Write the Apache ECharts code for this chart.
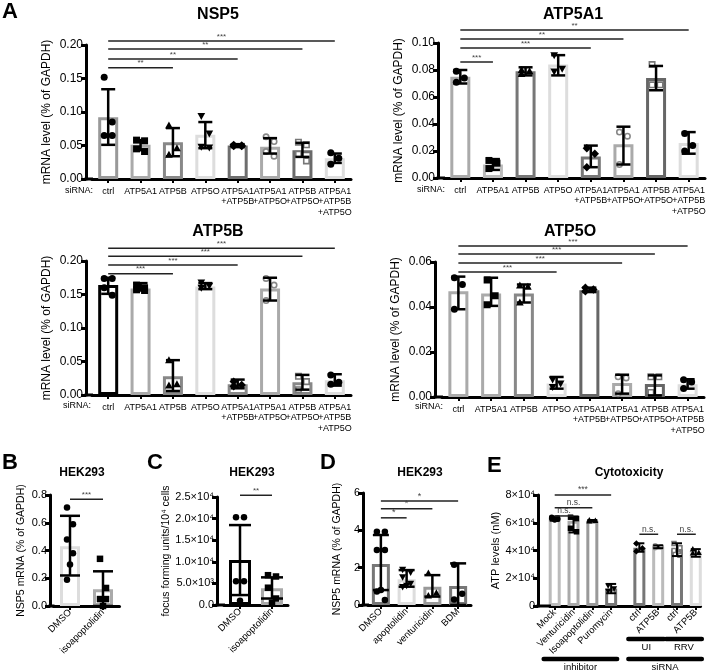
<!DOCTYPE html>
<html><head><meta charset="utf-8">
<script src="https://cdn.jsdelivr.net/npm/echarts@6/dist/echarts.min.js"></script>
<style>html,body{margin:0;padding:0;background:#fff}#c{width:713px;height:672px}</style>
</head><body><div id="c"></div><script>
// ---------------- DATA ----------------
const catsA = ['ctrl','ATP5A1','ATP5B','ATP5O','ATP5A1\n+ATP5B','ATP5A1\n+ATP5O','ATP5B\n+ATP5O','ATP5A1\n+ATP5B\n+ATP5O'];

// A - NSP5
const nsp5Ticks = ['0.00','0.05','0.10','0.15','0.20'];
const nsp5Mean = [0.092, 0.051, 0.055, 0.066, 0.050, 0.048, 0.043, 0.031];
const nsp5Lo   = [0.051, 0.043, 0.034, 0.046, 0.048, 0.038, 0.033, 0.024];
const nsp5Hi   = [0.134, 0.058, 0.076, 0.085, 0.052, 0.061, 0.054, 0.038];
const nsp5Pts  = [[0.152,0.085,0.065,0.065],[0.058,0.057,0.045,0.041],[0.080,0.046,0.036],[0.094,0.068,0.048,0.047],[0.051,0.050,0.049,0.049],[0.063,0.056,0.041,0.034],[0.055,0.051,0.037,0.027],[0.039,0.031,0.022]];
const nsp5SigTo  = [7, 6, 4, 2];
const nsp5SigY   = [0.206, 0.194, 0.179, 0.166];
const nsp5SigLbl = ['***','**','**','**'];

// A - ATP5A1
const a1Ticks = ['0.00','0.02','0.04','0.06','0.08','0.10'];
const a1Mean = [0.075, 0.010, 0.079, 0.084, 0.016, 0.025, 0.074, 0.026];
const a1Lo   = [0.070, 0.006, 0.076, 0.076, 0.008, 0.010, 0.065, 0.018];
const a1Hi   = [0.080, 0.014, 0.082, 0.091, 0.024, 0.038, 0.083, 0.034];
const a1Pts  = [[0.079,0.074,0.071],[0.013,0.011,0.007],[0.080,0.079,0.077],[0.091,0.081,0.079],[0.022,0.018,0.008],[0.034,0.031,0.010],[0.084,0.069,0.069],[0.033,0.024,0.020]];
const a1SigTo  = [7, 5, 4, 1];
const a1SigY   = [0.1096, 0.1030, 0.0963, 0.0860];
const a1SigLbl = ['**','**','***','***'];

// A - ATP5B
const bTicks = ['0.00','0.05','0.10','0.15','0.20'];
const bMean = [0.164, 0.159, 0.028, 0.162, 0.016, 0.159, 0.019, 0.022];
const bLo   = [0.151, 0.156, 0.006, 0.158, 0.010, 0.141, 0.008, 0.014];
const bHi   = [0.175, 0.167, 0.052, 0.167, 0.023, 0.175, 0.030, 0.031];
const bPts  = [[0.174,0.174,0.160,0.149],[0.164,0.160,0.157,0.156],[0.052,0.016,0.014],[0.168,0.163,0.160],[0.020,0.015,0.013],[0.174,0.164,0.141],[0.028,0.020,0.008],[0.030,0.019,0.016]];
const bSigTo  = [7, 6, 4, 2];
const bSigY   = [0.219, 0.207, 0.194, 0.181];
const bSigLbl = ['***','***','***','***'];

// A - ATP5O
const oTicks = ['0.00','0.02','0.04','0.06'];
const oMean = [0.047, 0.046, 0.046, 0.006, 0.0475, 0.0062, 0.0058, 0.0057];
const oLo   = [0.039, 0.0405, 0.042, 0.0037, 0.0467, 0.0015, 0.0007, 0.0037];
const oHi   = [0.0535, 0.053, 0.050, 0.0089, 0.0486, 0.0099, 0.0096, 0.0079];
const oPts  = [[0.053,0.050,0.039],[0.052,0.045,0.041],[0.0495,0.049,0.042],[0.0078,0.006,0.0045],[0.0486,0.0478,0.047],[0.009,0.0085,0.0015],[0.009,0.009,0.002],[0.0077,0.0067,0.0038]];
const oSigTo  = [7, 6, 5, 3];
const oSigY   = [0.0671, 0.0636, 0.0596, 0.0556];
const oSigLbl = ['***','***','***','***'];

// B
const catsB = ['DMSO','isoapoptolidin'];
const bbTicks = ['0.0','0.2','0.4','0.6','0.8'];
const bbMean = [0.43, 0.12];
const bbLo   = [0.22, 0.0];
const bbHi   = [0.65, 0.25];
const bbPts  = [[0.71,0.59,0.48,0.38,0.30,0.19],[0.34,0.13,0.05,0.05,0.0]];
const bbSigTo = [1], bbSigY = [0.77], bbSigLbl = ['***'];

// C
const catsC = ['DMSO','isoapoptolidin'];
const cTicks = ['0.0','5.0×10³','1.0×10⁴','1.5×10⁴','2.0×10⁴','2.5×10⁴'];
const cMean = [10400, 3900];
const cLo   = [2300, 1500];
const cHi   = [18500, 6400];
const cPts  = [[20300,20300,5500,5500,1000],[6900,6600,4000,1500,500]];
const cSigTo = [1], cSigY = [25400], cSigLbl = ['**'];

// D
const catsD = ['DMSO','apoptolidin','venturicidin','BDM'];
const dTicks = ['0','2','4','6'];
const dMean = [2.2, 1.38, 0.98, 1.02];
const dLo   = [0.8, 0.98, 0.45, 0.0];
const dHi   = [3.75, 1.87, 1.6, 2.23];
const dPts  = [[3.93,3.93,2.95,2.95,0.8,0.72,0.27],[1.9,1.75,1.5,1.15,1.05,0.98],[1.7,0.65,0.5],[2.15,0.6,0.3]];
const dSigTo = [3, 2, 1], dSigY = [5.57, 5.15, 4.67], dSigLbl = ['*','*','*'];

// E
const catsE = ['Mock','Venturicidin','Isoapoptolidin','Puromycin','ctrl','ATP5B','ctrl','ATP5B'];
const eTicks = ['0','2×10⁴','4×10⁴','6×10⁴','8×10⁴'];
const eMean = [63000, 61500, 61500, 12700, 42000, 42700, 40800, 39100];
const eLo   = [61500, 53000, 61000, 9200, 39100, 41700, 36000, 35500];
const eHi   = [64500, 64500, 62000, 15900, 45200, 43700, 45200, 41000];
const ePts  = [[64000,63500,63000,62500,62000],[64000,63000,56000,53500],[61800,61500,61200],[14800,12500,10800],[45000,41500,39500],[43500,42700,42000],[45000,42000,40000,36500],[41000,38500,38000]];
const eSigFrom = [0, 0, 0, 4, 6];
const eSigTo   = [3, 2, 1, 5, 7];
const eSigY    = [80000, 70800, 64900, 51700, 51700];
const eSigLbl  = ['***','n.s.','n.s.','n.s.','n.s.'];
const eGroupLbl  = ['UI','RRV','inhibitor','siRNA'];
const eGroupFrom = [4, 6, 0, 4];
const eGroupTo   = [5, 7, 3, 7];
const eGroupRow  = [0, 0, 1, 1];

// ---------------- STYLE / LAYOUT ----------------
const FONT = 'Arial, "Liberation Sans", Helvetica, sans-serif';
const AX = 3;
const shapesA = ['circle','square','tri','tdown','diamond','ocircle','osquare','circle'];
const ptColA  = ['#000','#000','#000','#000','#000','#888','#777','#000'];

const P = [
  {g:[92,45,259,134], yOff:6, ymax:0.2, yint:0.05, ticks:nsp5Ticks, cats:catsA, mean:nsp5Mean, lo:nsp5Lo, hi:nsp5Hi, pts:nsp5Pts,
   sigTo:nsp5SigTo, sigY:nsp5SigY, sigLbl:nsp5SigLbl,
   colors:['#999','#aaa','#888','#ddd','#6e6e6e','#aaa','#6a6a6a','#ddd'], shapes:shapesA, ptCol:ptColA,
   barW:20, cap:14, elw:2.5, ms:7, dx:4, yName:'mRNA level (% of GAPDH)', nameGap:33, nameSize:12, yFont:12, xFont:9, xMargin:7, rot:0, sigFont:8},
  {g:[444,43,261,135], yOff:6, ymax:0.1, yint:0.02, ticks:a1Ticks, cats:catsA, mean:a1Mean, lo:a1Lo, hi:a1Hi, pts:a1Pts,
   sigTo:a1SigTo, sigY:a1SigY, sigLbl:a1SigLbl,
   colors:['#aaa','#bbb','#777','#ddd','#777','#aaa','#666','#ddd'], shapes:shapesA, ptCol:ptColA,
   barW:20, cap:14, elw:2.5, ms:7, dx:4, yName:'mRNA level (% of GAPDH)', nameGap:33, nameSize:12, yFont:12, xFont:9, xMargin:7, rot:0, sigFont:8},
  {g:[92,261,259,134], yOff:6, ymax:0.2, yint:0.05, ticks:bTicks, cats:catsA, mean:bMean, lo:bLo, hi:bHi, pts:bPts,
   sigTo:bSigTo, sigY:bSigY, sigLbl:bSigLbl,
   colors:['#000','#aaa','#888','#ddd','#888','#aaa','#888','#ddd'], shapes:shapesA, ptCol:ptColA,
   barW:20, cap:14, elw:2.5, ms:7, dx:4, yName:'mRNA level (% of GAPDH)', nameGap:33, nameSize:12, yFont:12, xFont:9, xMargin:7, rot:0, sigFont:8},
  {g:[442,262,262,135], yOff:7, ymax:0.06, yint:0.02, ticks:oTicks, cats:catsA, mean:oMean, lo:oLo, hi:oHi, pts:oPts,
   sigTo:oSigTo, sigY:oSigY, sigLbl:oSigLbl,
   colors:['#aaa','#aaa','#888','#ddd','#666','#aaa','#666','#ddd'], shapes:shapesA, ptCol:ptColA,
   barW:20, cap:14, elw:2.5, ms:7, dx:4, yName:'mRNA level (% of GAPDH)', nameGap:33, nameSize:12, yFont:12, xFont:9, xMargin:7, rot:0, sigFont:8},
  {g:[53.5,495,66,111], yOff:3.5, ymax:0.8, yint:0.2, ticks:bbTicks, cats:catsB, mean:bbMean, lo:bbLo, hi:bbHi, pts:bbPts,
   sigTo:bbSigTo, sigY:bbSigY, sigLbl:bbSigLbl,
   colors:['#ddd','#aaa'], shapes:['circle','square'], ptCol:['#000','#000'],
   barW:20, cap:20, elw:2.5, ms:6.5, dx:3, yName:'NSP5 mRNA (% of GAPDH)', nameGap:23, nameSize:10.5, yFont:11, xFont:9.5, xMargin:5, rot:45, sigFont:8},
  {g:[224,497,64,108], yOff:7, ymax:25000, yint:5000, ticks:cTicks, cats:catsC, mean:cMean, lo:cLo, hi:cHi, pts:cPts,
   sigTo:cSigTo, sigY:cSigY, sigLbl:cSigLbl,
   colors:['#000','#aaa'], shapes:['circle','square'], ptCol:['#000','#000'],
   barW:22, cap:22, elw:2.5, ms:6.5, dx:4, yName:'focus forming units/10⁴ cells', nameGap:40, nameSize:10.5, yFont:11, xFont:9.5, xMargin:5, rot:45, sigFont:8},
  {g:[368,493,103,112], yOff:5, ymax:6, yint:2, ticks:dTicks, cats:catsD, mean:dMean, lo:dLo, hi:dHi, pts:dPts,
   sigTo:dSigTo, sigY:dSigY, sigLbl:dSigLbl,
   colors:['#777','#ddd','#999','#777'], shapes:['circle','tdown','tri','circle'], ptCol:['#000','#000','#000','#000'],
   barW:18, cap:16, elw:2.5, ms:6.5, dx:4, yName:'NSP5 mRNA (% of GAPDH)', nameGap:20, nameSize:10.5, yFont:11, xFont:9.5, xMargin:5, rot:45, sigFont:9},
  {g:[550,495,150.5,111], yOff:12, ymax:80000, yint:20000, ticks:eTicks, cats:catsE, mean:eMean, lo:eLo, hi:eHi, pts:ePts,
   sigFrom:eSigFrom, sigTo:eSigTo, sigY:eSigY, sigLbl:eSigLbl, slot:[0,2,4,6,9,11,13,15], nSlots:16,
   colors:['#bbb','#aaa','#999','#777','#777','#bbb','#777','#ddd'],
   shapes:['circle','square','tri','tdown','diamond','ocircle','osquare','tri'], ptCol:['#000','#000','#000','#000','#000','#999','#777','#000'],
   barW:12, cap:10, elw:2, ms:5.5, dx:3, yName:'ATP levels (nM)', nameGap:27, nameSize:11, yFont:11, xFont:9.5, xMargin:5, rot:45, sigFont:8.5}
];

function marker(shape, x, y, s, color) {
  const open = shape[0] === 'o' && shape !== 'osquare' ? true : shape === 'osquare';
  const base = open ? shape.slice(1) : shape;
  const r = open ? s / 2 - 0.8 : s / 2;
  const style = open ? {fill:'#fff', stroke:color, lineWidth:1.6} : {fill:color};
  if (base === 'circle') return {type:'circle', shape:{cx:x, cy:y, r:r}, style};
  if (base === 'square') return {type:'rect', shape:{x:x - r, y:y - r, width:2 * r, height:2 * r}, style};
  if (base === 'tri') return {type:'polygon', shape:{points:[[x, y - r * 1.15], [x + r * 1.1, y + r * 0.85], [x - r * 1.1, y + r * 0.85]]}, style};
  if (base === 'tdown') return {type:'polygon', shape:{points:[[x, y + r * 1.15], [x + r * 1.1, y - r * 0.85], [x - r * 1.1, y - r * 0.85]]}, style};
  if (base === 'diamond') return {type:'polygon', shape:{points:[[x, y - r * 1.2], [x + r * 1.2, y], [x, y + r * 1.2], [x - r * 1.2, y]]}, style};
  return {type:'circle', shape:{cx:x, cy:y, r:r}, style};
}
const jitter = [-1, 1, -1, 1, 0, -1, 1, 0];

const option = {animation:false, backgroundColor:'#fff', grid:[], xAxis:[], yAxis:[], series:[], graphic:[]};

P.forEach((p, i) => {
  const n = p.cats.length;
  const slot = p.slot || p.cats.map((_, j) => j);
  const nSlots = p.nSlots || n;
  const axisCats = new Array(nSlots).fill('');
  p.cats.forEach((c, j) => { axisCats[slot[j]] = c; });
  option.grid.push({left:p.g[0], top:p.g[1], width:p.g[2], height:p.g[3]});
  option.xAxis.push({type:'category', gridIndex:i, data:axisCats,
    axisLine:{show:true, lineStyle:{color:'#000', width:AX}},
    axisTick:{show:true, alignWithLabel:true, length:4, lineStyle:{color:'#000', width:2}, interval:(idx, v) => v !== ''},
    axisLabel:{interval:0, fontSize:p.xFont, color:'#000', fontFamily:FONT, rotate:p.rot, margin:p.xMargin, lineHeight:p.xFont + 1.5},
    splitLine:{show:false}});
  option.yAxis.push({type:'value', gridIndex:i, min:0, max:p.ymax, interval:p.yint, offset:p.yOff,
    axisLine:{show:true, lineStyle:{color:'#000', width:AX}},
    axisTick:{show:true, length:5, lineStyle:{color:'#000', width:AX}},
    axisLabel:{fontSize:p.yFont, color:'#000', fontFamily:FONT, margin:3, formatter:(v) => p.ticks[Math.round(v / p.yint)]},
    splitLine:{show:false},
    name:p.yName, nameLocation:'middle', nameGap:p.nameGap, nameTextStyle:{fontSize:p.nameSize, color:'#000', fontFamily:FONT}});
  const barData = axisCats.map(() => '-');
  p.mean.forEach((m, j) => { barData[slot[j]] = {value:m, itemStyle:{borderColor:p.colors[j]}}; });
  option.series.push({type:'bar', xAxisIndex:i, yAxisIndex:i, barWidth:p.barW, z:2, silent:true,
    itemStyle:{color:'#fff', borderWidth:3}, data:barData});
  // points
  const ptData = [];
  p.pts.forEach((arr, j) => arr.forEach((v, k) => ptData.push([slot[j], v, k, j])));
  option.series.push({type:'custom', xAxisIndex:i, yAxisIndex:i, z:3, silent:true, data:ptData, encode:{x:0, y:1},
    renderItem:(params, api) => {
      const c = api.coord([api.value(0), api.value(1)]);
      const k = api.value(2), j = api.value(3);
      return marker(p.shapes[j], c[0] + jitter[k % jitter.length] * p.dx, c[1], p.ms, p.ptCol[j]);
    }});
  // error bars
  option.series.push({type:'custom', xAxisIndex:i, yAxisIndex:i, z:4, silent:true,
    data:p.mean.map((_, j) => [slot[j], p.lo[j], p.hi[j]]), encode:{x:0, y:[1, 2]},
    renderItem:(params, api) => {
      const a = api.coord([api.value(0), api.value(1)]);
      const b = api.coord([api.value(0), api.value(2)]);
      const w = p.cap / 2, st = {stroke:'#000', lineWidth:p.elw};
      return {type:'group', children:[
        {type:'line', shape:{x1:a[0], y1:a[1], x2:b[0], y2:b[1]}, style:st},
        {type:'line', shape:{x1:a[0] - w, y1:a[1], x2:a[0] + w, y2:a[1]}, style:st},
        {type:'line', shape:{x1:b[0] - w, y1:b[1], x2:b[0] + w, y2:b[1]}, style:st}]};
    }});
  // significance lines
  option.series.push({type:'custom', xAxisIndex:i, yAxisIndex:i, z:5, silent:true, clip:false,
    data:p.sigTo.map((t, k) => [slot[p.sigFrom ? p.sigFrom[k] : 0], slot[t], p.sigY[k]]), encode:{x:[0, 1], y:2},
    renderItem:(params, api) => {
      const a = api.coord([api.value(0), api.value(2)]);
      const b = api.coord([api.value(1), api.value(2)]);
      return {type:'group', children:[
        {type:'line', shape:{x1:a[0], y1:a[1], x2:b[0], y2:b[1]}, style:{stroke:'#222', lineWidth:1.5}},
        {type:'text', x:(a[0] + b[0]) / 2, y:a[1] - 0.5, style:{text:p.sigLbl[params.dataIndex], fontSize:p.sigFont, fontFamily:FONT, fill:'#444',
          align:'center', textAlign:'center', verticalAlign:'bottom', textVerticalAlign:'bottom'}}]};
    }});
  // x-axis line extension to the offset y-axis
  option.series.push({type:'custom', xAxisIndex:i, yAxisIndex:i, z:5, silent:true, clip:false, data:[[0, 0]],
    renderItem:(params, api) => {
      const cs = params.coordSys;
      const y = cs.y + cs.height;
      return {type:'line', shape:{x1:cs.x - p.yOff - 1.5, y1:y, x2:cs.x + 1, y2:y}, style:{stroke:'#000', lineWidth:AX}};
    }});
  // E group brackets
  if (p.slot) {
    option.series.push({type:'custom', xAxisIndex:i, yAxisIndex:i, z:5, silent:true, clip:false,
      data:eGroupLbl.map((_, k) => [slot[eGroupFrom[k]], slot[eGroupTo[k]], eGroupRow[k]]), encode:{x:[0, 1]},
      renderItem:(params, api) => {
        const cs = params.coordSys;
        const x1 = api.coord([api.value(0), 0])[0] - 11;
        const x2 = api.coord([api.value(1), 0])[0] + 6;
        const y = cs.y + cs.height + (api.value(2) ? 53 : 33);
        return {type:'group', children:[
          {type:'line', shape:{x1:x1, y1:y, x2:x2, y2:y}, style:{stroke:'#000', lineWidth:4.5, lineCap:'round'}},
          {type:'text', x:(x1 + x2) / 2, y:y + 3, style:{text:eGroupLbl[params.dataIndex], fontSize:9.5, fontFamily:FONT, fill:'#000',
            align:'center', textAlign:'center', verticalAlign:'top', textVerticalAlign:'top'}}]};
      }});
  }
});

function txt(t, x, y, size, bold, align, valign) {
  return {type:'text', x:x, y:y, silent:true, style:{text:t, fontSize:size, fontWeight:bold ? 'bold' : 'normal', fontFamily:FONT, fill:'#000',
    align:align, textAlign:align, verticalAlign:valign, textVerticalAlign:valign}};
}
option.graphic = [
  txt('A', 2, 1, 22, true, 'left', 'top'),
  txt('NSP5', 218, 15, 16, true, 'center', 'middle'),
  txt('ATP5A1', 573, 15, 16, true, 'center', 'middle'),
  txt('ATP5B', 218, 232, 16, true, 'center', 'middle'),
  txt('ATP5O', 570, 232, 16, true, 'center', 'middle'),
  txt('siRNA:', 65, 191, 9, false, 'left', 'middle'),
  txt('siRNA:', 417, 190, 9, false, 'left', 'middle'),
  txt('siRNA:', 63, 406, 9, false, 'left', 'middle'),
  txt('siRNA:', 415, 407, 9, false, 'left', 'middle'),
  txt('B', 2, 452, 22, true, 'left', 'top'),
  txt('C', 147, 452, 22, true, 'left', 'top'),
  txt('D', 320, 452, 22, true, 'left', 'top'),
  txt('E', 487, 455, 22, true, 'left', 'top'),
  txt('HEK293', 82, 473, 12, true, 'center', 'middle'),
  txt('HEK293', 252, 473, 12, true, 'center', 'middle'),
  txt('HEK293', 420, 473, 12, true, 'center', 'middle'),
  txt('Cytotoxicity', 629, 473, 12, true, 'center', 'middle')
];

const chart = echarts.init(document.getElementById('c'), null, {renderer:'canvas'});
chart.setOption(option);
</script></body></html>
